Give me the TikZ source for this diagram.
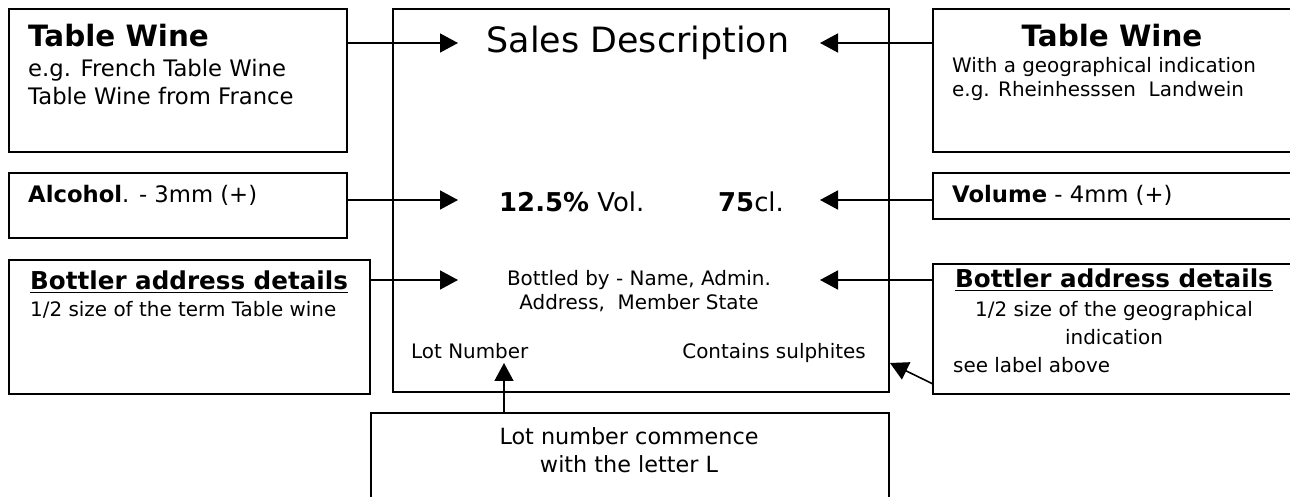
\documentclass[tikz,border=0pt]{standalone}
\usepackage{fontspec}
\setmainfont{DejaVu Sans}
\usetikzlibrary{arrows.meta,calc}
\newcommand{\fs}[1]{\fontsize{#1}{#1}\selectfont}
\tikzset{
  box/.style={draw,line width=1.6bp,rectangle,inner sep=0pt,anchor=north west},
  txt/.style={inner sep=0pt,font=\fs{20}},
  conn/.style={line width=1.6bp,-{Triangle[length=18bp,width=19bp]}}
}
\begin{document}
\begin{tikzpicture}[x=1bp,y=-1bp]
\useasboundingbox (0,0) rectangle (1290,497);
% boxes
\node[box,minimum width=338bp,minimum height=143bp] (lt) at (8,8) {};
\node[box,minimum width=338bp,minimum height=65bp] (la) at (8,172) {};
\node[box,minimum width=361bp,minimum height=134bp] (lb) at (8,259) {};
\node[box,minimum width=496bp,minimum height=383bp] (c) at (392,8) {};
\node[box,minimum width=380bp,minimum height=143bp] (rt) at (932,8) {};
\node[box,minimum width=380bp,minimum height=46bp] (rv) at (932,172) {};
\node[box,minimum width=380bp,minimum height=130bp] (rb) at (932,263) {};
\node[box,minimum width=518bp,minimum height=110bp] (bot) at (370,412) {};
% left texts
\node[txt,anchor=base west,font=\fs{29.5}\bfseries] (t1) at (28,47) {Table Wine};
\node[txt,anchor=base west,font=\fs{22.8}] (t2) at (28,77) {e.g. French Table Wine};
\node[txt,anchor=base west,font=\fs{22.8}] (t3) at (28,105) {Table Wine from France};
\node[txt,anchor=base west,font=\fs{22.8}] (t4) at (28,203) {\textbf{Alcohol}. - 3mm (+)};
\node[txt,anchor=base west,font=\fs{24.7}\bfseries] (t5) at (30,290) {\underline{Bottler address details}};
\node[txt,anchor=base west] (t6) at (30,317) {1/2 size of the term Table wine};
% right texts
\node[txt,anchor=base,font=\fs{29.5}\bfseries] (r1) at (1112,47) {Table Wine};
\node[txt,anchor=base west] (r2) at (952,73) {With a geographical indication};
\node[txt,anchor=base west] (r3) at (952,97) {e.g. Rheinhesssen~ Landwein};
\node[txt,anchor=base west,font=\fs{22.8}] (r4) at (952,203) {\textbf{Volume} - 4mm (+)};
\node[txt,anchor=base,font=\fs{24.7}\bfseries] (r5) at (1114,288) {\underline{Bottler address details}};
\node[txt,anchor=base] (r6) at (1114,317) {1/2 size of the geographical};
\node[txt,anchor=base] (r7) at (1114,345) {indication};
\node[txt,anchor=base west] (r8) at (953,373) {see label above};
% centre texts
\node[txt,anchor=base,font=\fs{35}] (c1) at (638,53) {Sales Description};
\node[txt,anchor=base west,font=\fs{26}] (c2) at (499,212) {\textbf{12.5\%} Vol.};
\node[txt,anchor=base west,font=\fs{26}] (c3) at (718,212) {\textbf{75}cl.};
\node[txt,anchor=base] (c4) at (639,286) {Bottled by - Name, Admin.};
\node[txt,anchor=base] (c5) at (639,310) {Address,~ Member State};
\node[txt,anchor=base west] (c6) at (411,359) {Lot Number};
\node[txt,anchor=base east] (c7) at (866,359) {Contains sulphites};
\node[txt,anchor=base,font=\fs{22.4}] (b1) at (629,444) {Lot number commence};
\node[txt,anchor=base,font=\fs{22.4}] (b2) at (629,472) {with the letter L};
% arrow tips
\coordinate (p1) at (458,43);
\coordinate (q1) at (820,43);
\coordinate (p2) at (458,200);
\coordinate (q2) at (820,200);
\coordinate (p3) at (458,280);
\coordinate (q3) at (820,280);
\coordinate (p4) at (504,363);
\coordinate (p5) at (890,363);
\coordinate (s5) at (933,384);
% connectors
\draw[conn] (p1 -| lt.east) -- (p1);
\draw[conn] (q1 -| rt.west) -- (q1);
\draw[conn] (p2 -| la.east) -- (p2);
\draw[conn] (q2 -| rv.west) -- (q2);
\draw[conn] (p3 -| lb.east) -- (p3);
\draw[conn] (q3 -| rb.west) -- (q3);
\draw[conn] (p4 |- bot.north) -- (p4);
\draw[conn] (s5) -- (p5);
\end{tikzpicture}
\end{document}
